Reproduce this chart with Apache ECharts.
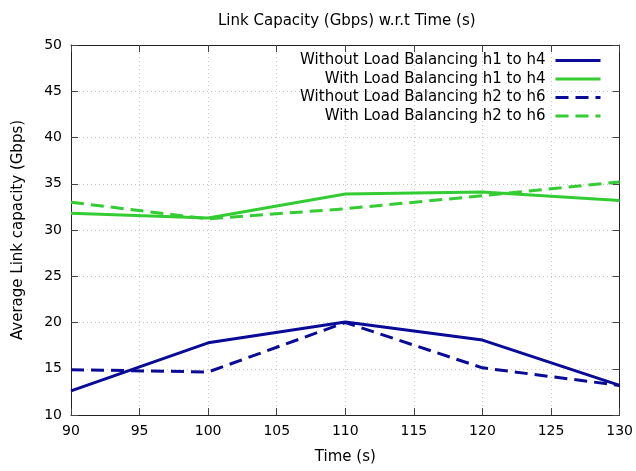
<!DOCTYPE html>
<html><head><meta charset="utf-8">
<script src="https://cdn.jsdelivr.net/npm/echarts@6/dist/echarts.min.js"></script>
<style>html,body{margin:0;padding:0;background:#fff}#c{width:636px;height:471px}</style>
</head><body><div id="c"></div>
<script>
const times = [90, 100, 110, 120, 130];
const withoutH1H4 = [12.6, 17.8, 20.05, 18.1, 13.2];
const withH1H4 = [31.8, 31.3, 33.9, 34.1, 33.2];
const withoutH2H6 = [14.9, 14.65, 20.0, 15.1, 13.2];
const withH2H6 = [33.0, 31.2, 32.3, 33.7, 35.2];
const seriesNames = ['Without Load Balancing h1 to h4','With Load Balancing h1 to h4','Without Load Balancing h2 to h6','With Load Balancing h2 to h6'];
const blue = '#0a0a98', green = '#33cc33';
const font = 'DejaVu Sans';
const chart = echarts.init(document.getElementById('c'), null, {renderer:'canvas'});
const pair = arr => times.map((t,i)=>[t, arr[i]]);
const mk = (name, arr, color, dashed) => ({
  name, type:'line', data: pair(arr), symbol:'none', xAxisIndex:0, yAxisIndex:0,
  lineStyle:{color, width:3, type: dashed ? [13,7] : 'solid'}, itemStyle:{color}
});
const axisCommon = {
  axisLine:{show:true, onZero:false, lineStyle:{color:'#222', width:1}},
  axisTick:{show:true, inside:true, length:7, lineStyle:{color:'#444'}},
};
const legends = seriesNames.map((n,i)=>({
  data:[n], right:34, top:53 + i*18.5, orient:'vertical', align:'right',
  itemWidth:45, itemHeight:14, itemGap:0, padding:0,
  itemStyle:{color:'transparent', borderWidth:0, opacity:0},
  lineStyle:{width:3},
  textStyle:{fontFamily:font, fontSize:15, color:'#000', padding:[0,5,0,0]}
}));
chart.setOption({
  animation:false,
  title:{text:'Link Capacity (Gbps) w.r.t Time (s)', left:213, top:9,
    textStyle:{fontFamily:font, fontSize:15, fontWeight:'normal', color:'#000'}},
  legend: legends,
  grid:{left:71, right:14, top:45, bottom:56},
  xAxis:[
    Object.assign({type:'value', min:90, max:130, interval:5, position:'bottom',
      name:'Time (s)', nameLocation:'middle', nameGap:35,
      nameTextStyle:{fontFamily:font, fontSize:15, color:'#000'},
      axisLabel:{fontFamily:font, fontSize:14, color:'#000', margin:9},
      splitLine:{show:true, lineStyle:{color:'#c8c8c8', type:[1,3], width:1}}}, axisCommon),
    Object.assign({type:'value', min:90, max:130, interval:5, position:'top',
      axisLabel:{show:false}, splitLine:{show:false}}, axisCommon)
  ],
  yAxis:[
    Object.assign({type:'value', min:10, max:50, interval:5, position:'left',
      name:'Average Link capacity (Gbps)', nameLocation:'middle', nameGap:45, nameRotate:90,
      nameTextStyle:{fontFamily:font, fontSize:15, color:'#000'},
      axisLabel:{fontFamily:font, fontSize:14, color:'#000', margin:9},
      splitLine:{show:true, lineStyle:{color:'#c8c8c8', type:[1,3], width:1}}}, axisCommon),
    Object.assign({type:'value', min:10, max:50, interval:5, position:'right',
      axisLabel:{show:false}, splitLine:{show:false}}, axisCommon)
  ],
  series:[
    mk(seriesNames[0], withoutH1H4, blue, false),
    mk(seriesNames[1], withH1H4, green, false),
    mk(seriesNames[2], withoutH2H6, blue, true),
    mk(seriesNames[3], withH2H6, green, true)
  ]
});
</script></body></html>
